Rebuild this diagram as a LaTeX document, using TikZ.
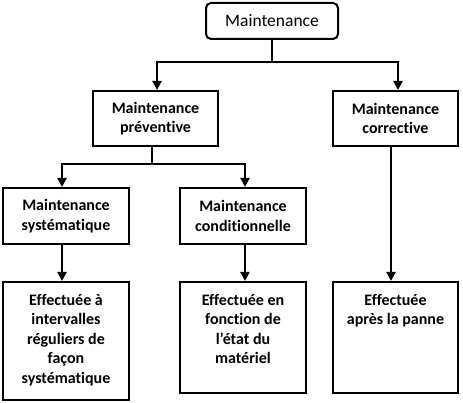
\documentclass[tikz,border=0pt]{standalone}
\usepackage{fontspec}
\setmainfont{Carlito}[Ligatures=NoCommon]
\usetikzlibrary{arrows.meta,calc}
\begin{document}
\begin{tikzpicture}[x=1pt,y=-1pt,
  box/.style={draw,line width=2pt,inner sep=0pt},
  lbl/.style={font=\bfseries\fontsize{16}{19.5}\selectfont,align=center,inner sep=0pt},
  arr/.style={line width=2pt,-{Triangle[length=9pt,width=9pt]}},
  ln/.style={line width=2pt}]
\useasboundingbox (0,0) rectangle (463,403);
\node[box,rounded corners=5pt,minimum width=132pt,minimum height=36pt,font=\fontsize{17.5}{20}\selectfont] (top) at (272,21) {Maintenance};
\node[box,lbl,minimum width=125pt,minimum height=55pt] (prev) at (155.5,118.5) {Maintenance\\préventive};
\node[box,lbl,minimum width=125pt,minimum height=55pt] (corr) at (395.5,118.5) {Maintenance\\corrective};
\node[box,lbl,minimum width=126pt,minimum height=56pt] (sys) at (66,216) {Maintenance\\systématique};
\node[box,lbl,minimum width=126pt,minimum height=56pt] (cond) at (243,216) {Maintenance\\conditionnelle};
\node[box,minimum width=126pt,minimum height=118pt] (b1) at (66,341) {};
\node[box,minimum width=126pt,minimum height=111pt] (b2) at (243,337.5) {};
\node[box,minimum width=125pt,minimum height=111pt] (b3) at (395.5,337.5) {};
\node[lbl,anchor=north] (t1) at ([yshift=-13pt]b1.north) {Effectuée à\\intervalles\\réguliers de\\façon\\systématique};
\node[lbl,anchor=north] (t2) at ([yshift=-13pt]b2.north) {Effectuée en\\fonction de\\l’état du\\matériel};
\node[lbl,anchor=north] (t3) at ([yshift=-13pt]b3.north) {Effectuée\\après la panne};
\coordinate (j1) at (272,62);
\coordinate (j2) at (152,164);
\draw[ln] (top.south) -- (j1);
\draw[arr] (j1) -| ([xshift=1.5pt]prev.north);
\draw[arr] (j1) -| ([xshift=2.5pt]corr.north);
\draw[ln] ([xshift=-3.5pt]prev.south) -- (j2);
\draw[arr] (j2) -| ([xshift=-4pt]sys.north);
\draw[arr] (j2) -| ([xshift=2pt]cond.north);
\draw[arr] ([xshift=-4pt]sys.south) -- ([xshift=-4pt]b1.north);
\draw[arr] ([xshift=2pt]cond.south) -- ([xshift=2pt]b2.north);
\draw[arr] ([xshift=-4.5pt]corr.south) -- ([xshift=-4.5pt]b3.north);
\end{tikzpicture}
\end{document}
